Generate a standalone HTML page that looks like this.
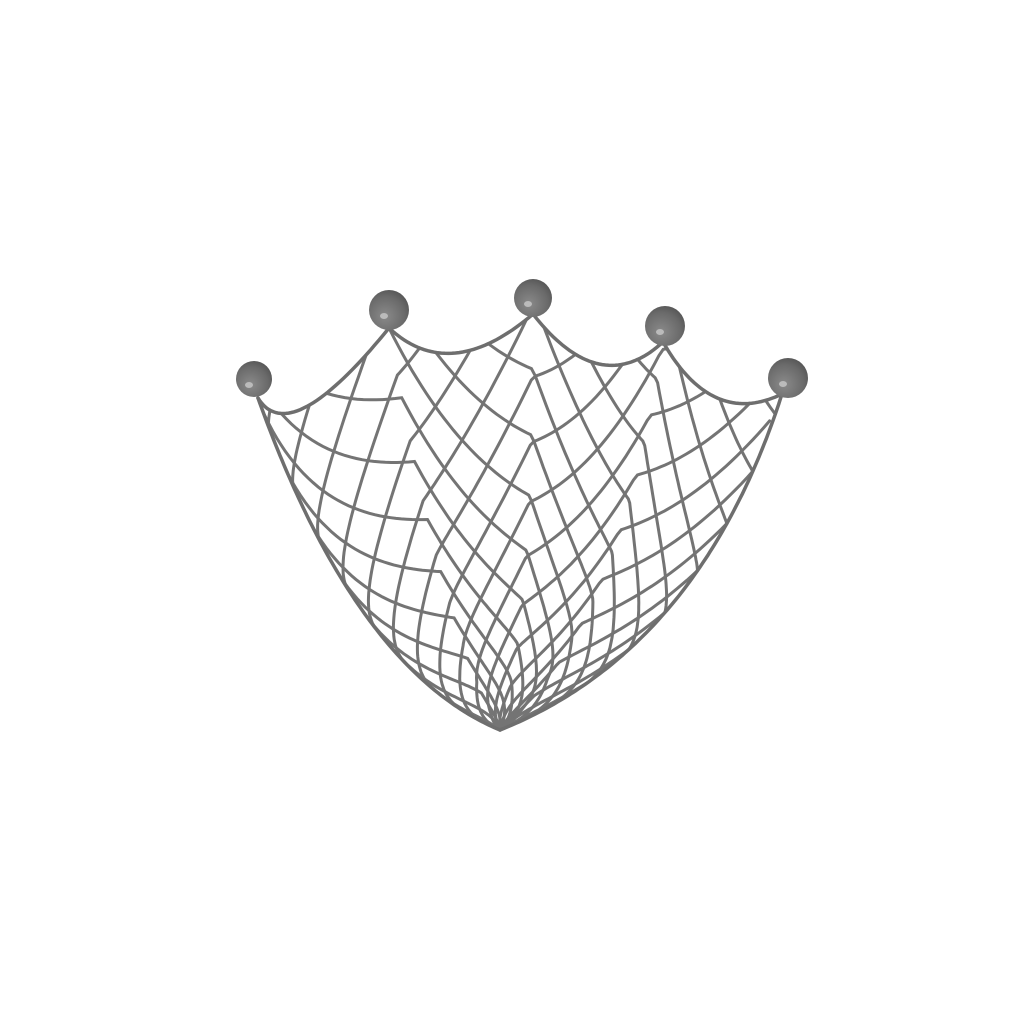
<!DOCTYPE html>
<html><head><meta charset="utf-8"><style>
html,body{margin:0;padding:0;background:#fff;}
svg{display:block;}
</style></head><body>
<svg id="art" width="1024" height="1024" viewBox="0 0 1024 1024">
<defs>
<radialGradient id="ballg" cx="0.4" cy="0.65" r="0.7">
<stop offset="0" stop-color="#8a8a8a"/><stop offset="0.7" stop-color="#6a6a6a"/><stop offset="1" stop-color="#555"/>
</radialGradient>
</defs>
<g id="net" fill="none" stroke="#747474" stroke-width="3" stroke-linecap="round"></g>
<g id="edges" fill="none" stroke="#6e6e6e" stroke-width="3.5" stroke-linecap="round"></g>
<g id="balls"></g>
</svg>
<script>
const ballX=[254,389,533,665,788];
const ballY=[379,310,298,326,378];
const ballR=[18,20,19,20,20];
const NS='http://www.w3.org/2000/svg';
const A=[500,730];
function q(p0,c,p1,t){return [(1-t)*(1-t)*p0[0]+2*(1-t)*t*c[0]+t*t*p1[0],(1-t)*(1-t)*p0[1]+2*(1-t)*t*c[1]+t*t*p1[1]];}
const Lc=v=>q(A,[355,670],[258,398],v);
const Rc=v=>q(A,[700,650],[782,394],v);
const segs=[[[258,398],[290,450],[389,328]],[[389,328],[450,385],[533,314]],[[533,314],[600,400],[663,342]],[[663,342],[712,428],[782,394]]];
function T(u){let s=Math.min(3.999,u*4);let i=Math.floor(s);let sg=segs[i];return q(sg[0],sg[1],sg[2],s-i);}
function P(u,v){const l=Lc(v),r=Rc(v),t=T(u),t0=T(0),t1=T(1);
return [0,1].map(k=>(1-u)*l[k]+u*r[k]+v*t[k]+(1-v)*A[k]-((1-v)*A[k]+(1-u)*v*t0[k]+u*v*t1[k]));}
const net=document.getElementById('net');
function addPath(g,pts,name){const p=document.createElementNS(NS,'path');
p.setAttribute('d','M'+pts.map(a=>a[0].toFixed(1)+','+a[1].toFixed(1)).join('L'));


g.appendChild(p);}
[0.75,-0.75].forEach((d,fi)=>{
for(let c=-0.8;c<=1.8;c+=0.09){const pts=[];
for(let v=0;v<=1.0001;v+=0.01){const u=c+d*v;if(u<0||u>1)continue;pts.push(P(u,v));}
if(pts.length>2)addPath(net,pts,fi?'net-strand-right':'net-strand-left');}});
const edges=document.getElementById('edges');
let lp=[],rp=[];
for(let i=0;i<=100;i++){lp.push(Lc(i/100));rp.push(Rc(i/100));}
addPath(edges,lp,'left-edge');addPath(edges,rp,'right-edge');
segs.forEach(s=>{const pts=[];for(let i=0;i<=40;i++)pts.push(q(s[0],s[1],s[2],i/40));addPath(edges,pts,'scallop-edge');});
const balls=document.getElementById('balls');
for(let i=0;i<ballX.length;i++){
const c=document.createElementNS(NS,'circle');c.setAttribute('cx',ballX[i]);c.setAttribute('cy',ballY[i]);c.setAttribute('r',ballR[i]);c.setAttribute('fill','url(#ballg)');


balls.appendChild(c);
const h=document.createElementNS(NS,'ellipse');h.setAttribute('cx',ballX[i]-5);h.setAttribute('cy',ballY[i]+6);h.setAttribute('rx',4);h.setAttribute('ry',3);h.setAttribute('fill','#bbb');


balls.appendChild(h);}
</script>
</body></html>
